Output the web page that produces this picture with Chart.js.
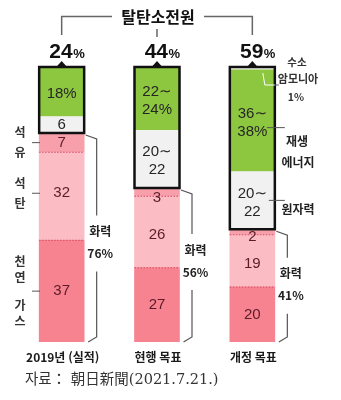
<!DOCTYPE html>
<html lang="ko">
<head>
<meta charset="utf-8">
<title>탈탄소전원</title>
<script src="https://cdn.jsdelivr.net/npm/chart.js@4.4.0/dist/chart.umd.min.js"></script>
<style>
  html, body { margin: 0; padding: 0; background: #fff; }
  #wrap { width: 341px; height: 400px; }
</style>
</head>
<body>
<div id="wrap"><canvas id="mix" width="341" height="400"></canvas></div>
<script>
// power mix (%), stacked bottom to top
const categories = ["2019년 (실적)", "현행 목표", "개정 목표"];
const gas = [37, 27, 20];
const coal = [32, 26, 19];
const oil = [7, 3, 2];
const nuclear = [6, 21, 21];
const renewable = [18, 23, 37];
const hydrogen = [0, 0, 1];

const lowCarbonTotals = [24, 44, 59];
const fireTotals = [76, 56, 41];
const nuclearLabels = ["6", "20∼\n22", "20∼\n22"];
const renewableLabels = ["18%", "22∼\n24%", "36∼\n38%"];

const KR = '"Noto Sans CJK KR", "Noto Sans", sans-serif';
const NUM = '"Liberation Sans", Arial, "DejaVu Sans", sans-serif';

function text(ctx, str, x, y, font, color, align) {
    ctx.font = font;
    ctx.fillStyle = color;
    ctx.textAlign = align || "center";
    ctx.textBaseline = "middle";
    ctx.fillText(str, x, y);
}

function lines(ctx, str, x, y, font, color, lh) {
    const parts = str.split("\n");
    parts.forEach((p, k) => {
        text(ctx, p, x, y + (k - (parts.length - 1) / 2) * lh, font, color);
    });
}

function path(ctx, pts, color, width) {
    ctx.beginPath();
    ctx.strokeStyle = color;
    ctx.lineWidth = width;
    pts.forEach((p, k) => (k ? ctx.lineTo(p[0], p[1]) : ctx.moveTo(p[0], p[1])));
    ctx.stroke();
}

const overlay = {
    id: "overlay",
    afterDatasetsDraw(chart) {
        const ctx = chart.ctx;
        const xs = chart.scales.x;
        const ys = chart.scales.y;
        const half = chart.getDatasetMeta(0).data[0].width / 2;
        const fireNudge = [5, -4, -1];
        ctx.save();

        categories.forEach((cat, i) => {
            const cx = xs.getPixelForValue(i);
            const xl = cx - half;
            const xr = cx + half;
            const yGas = ys.getPixelForValue(gas[i]);
            const yCoal = ys.getPixelForValue(gas[i] + coal[i]);
            const yOil = ys.getPixelForValue(gas[i] + coal[i] + oil[i]);
            const yNuc = ys.getPixelForValue(gas[i] + coal[i] + oil[i] + nuclear[i]);
            const yRen = ys.getPixelForValue(gas[i] + coal[i] + oil[i] + nuclear[i] + renewable[i]);
            const yTop = ys.getPixelForValue(gas[i] + coal[i] + oil[i] + nuclear[i] + renewable[i] + hydrogen[i]);
            const yBase = ys.getPixelForValue(0);

            // dotted borders between fossil segments
            ctx.setLineDash([1.5, 1.5]);
            path(ctx, [[xl, yGas], [xr, yGas]], "#d4475f", 1);
            path(ctx, [[xl, yCoal], [xr, yCoal]], "#d4475f", 1);
            ctx.setLineDash([]);

            // values in fossil segments
            const pink = "#5a1c28";
            const vf = "15px " + NUM;
            const oilMid = (yCoal + yOil) / 2;
            text(ctx, String(oil[i]), cx, oil[i] < 5 ? yCoal + 2 : oilMid, vf, pink);
            text(ctx, String(coal[i]), cx, (yGas + yCoal) / 2 + (oil[i] < 5 ? 3 : -3), vf, pink);
            text(ctx, String(gas[i]), cx, (yBase + yGas) / 2, vf, pink);

            // low-carbon values
            lines(ctx, nuclearLabels[i], cx, (yOil + yNuc) / 2 + (i ? 2 : 0), vf, "#262626", 18);
            lines(ctx, renewableLabels[i], cx, (yNuc + yRen) / 2 + 2, vf, "#262626", 18);

            // low-carbon frame and pointer
            ctx.lineWidth = 2.5;
            ctx.strokeStyle = "#111";
            ctx.strokeRect(xl, yTop, xr - xl, yOil - yTop);
            ctx.beginPath();
            ctx.fillStyle = "#111";
            ctx.moveTo(cx - 4.5, yTop - 1);
            ctx.lineTo(cx + 4.5, yTop - 1);
            ctx.lineTo(cx, yTop - 6);
            ctx.closePath();
            ctx.fill();

            // share of low-carbon sources
            text(ctx, String(lowCarbonTotals[i]), cx + 11, 52, "bold 21px " + NUM, "#111", "right");
            text(ctx, "%", cx + 11.5, 54, "bold 13px " + NUM, "#111", "left");

            // thermal bracket on the right
            const bx = xr + 12.5;
            const mid = (yOil + yBase) / 2 + fireNudge[i];
            path(ctx, [[xr + 1.5, yOil + 2], [bx, yOil + 6], [bx, mid - 27]], "#555", 1.2);
            path(ctx, [[bx, mid + 29], [bx, yBase - 5], [xr + 4, yBase]], "#555", 1.2);
            text(ctx, "화력", xr + 16, mid - 11, "bold 12px " + KR, "#222");
            text(ctx, fireTotals[i] + "%", xr + 16, mid + 11, "bold 12px " + KR, "#222");

            // category label
            text(ctx, cat, cx + 1, 357, "bold 12px " + KR, "#1a1a1a");
        });

        // fossil source names beside the first bar
        const names = [["석", "유"], ["석", "탄"], ["천", "연", "가", "스"]];
        const mids = [
            (ys.getPixelForValue(gas[0] + coal[0]) + ys.getPixelForValue(gas[0] + coal[0] + oil[0])) / 2,
            (ys.getPixelForValue(gas[0]) + ys.getPixelForValue(gas[0] + coal[0])) / 2 - 3,
            (ys.getPixelForValue(0) + ys.getPixelForValue(gas[0])) / 2
        ];
        names.forEach((chars, k) => {
            const y0 = mids[k];
            const n = chars.length;
            chars.forEach((c, j) => {
                const off = (j - (n - 1) / 2) * 16 + (j < n / 2 ? -6 : 6) * (n > 2 ? 1 : 0.3);
                text(ctx, c, 20, y0 + off, "bold 12px " + KR, "#333");
            });
            path(ctx, [[32, y0], [40, y0]], "#555", 1);
        });

        // callouts for the revised target
        const c3 = xs.getPixelForValue(2);
        const r3 = c3 + half;
        const top3 = ys.getPixelForValue(100);
        path(ctx, [[r3 - 12, top3 + 6], [r3 - 10, top3 + 18], [r3, top3 + 18]], "#fff", 1);
        path(ctx, [[r3, top3 + 18], [r3 + 4, top3 + 18]], "#555", 1);
        text(ctx, "수소", 297, 62, "bold 10.5px " + KR, "#333");
        text(ctx, "암모니아", 298, 79, "bold 11px " + KR, "#333");
        text(ctx, "1%", 296, 97, "bold 10.5px " + KR, "#333");

        const yRenMid = (ys.getPixelForValue(41 + nuclear[2]) + ys.getPixelForValue(41 + nuclear[2] + renewable[2])) / 2;
        path(ctx, [[r3 - 8, yRenMid + 7], [r3 + 10, yRenMid + 7]], "#555", 1);
        text(ctx, "재생", 297, 141, "bold 12px " + KR, "#222");
        text(ctx, "에너지", 298, 162, "bold 12px " + KR, "#222");

        const yNucMid = (ys.getPixelForValue(41) + ys.getPixelForValue(41 + nuclear[2])) / 2;
        path(ctx, [[r3 - 6, yNucMid], [r3 + 10, yNucMid]], "#555", 1);
        text(ctx, "원자력", 298, 209, "bold 12px " + KR, "#222");

        // heading bracket
        const c1 = xs.getPixelForValue(0);
        const c2 = xs.getPixelForValue(1);
        path(ctx, [[112, 16.5], [c1, 16.5], [c1, 35]], "#666", 1.5);
        path(ctx, [[204, 16.5], [c3, 16.5], [c3, 35]], "#666", 1.5);
        path(ctx, [[c2, 29], [c2, 37]], "#666", 1.5);
        text(ctx, "탈탄소전원", 158, 17, "bold 16px " + KR, "#111");

        // source
        text(ctx, "자료： 朝日新聞(2021.7.21.)", 25, 380,
            '14.5px "DejaVu Serif", "Liberation Serif", "Noto Sans CJK JP", serif', "#333", "left");

        ctx.restore();
    }
};

const ds = (label, data, color) => ({
    label, data, backgroundColor: color, borderWidth: 0, barThickness: 45
});

new Chart(document.getElementById("mix"), {
    type: "bar",
    data: {
        labels: categories,
        datasets: [
            ds("천연가스", gas, "#f6838f"),
            ds("석탄", coal, "#fbbcc4"),
            ds("석유", oil, "#f7a0ab"),
            ds("원자력", nuclear, "#f1f1f1"),
            ds("재생에너지", renewable, "#8dc63f"),
            ds("수소·암모니아", hydrogen, "#f4f4f4")
        ]
    },
    options: {
        responsive: false,
        animation: false,
        layout: { padding: { left: 14, right: 41, top: 67, bottom: 58 } },
        plugins: { legend: { display: false }, tooltip: { enabled: false } },
        scales: {
            x: { stacked: true, display: false },
            y: { stacked: true, display: false, min: 0, max: 100 }
        }
    },
    plugins: [overlay]
});
</script>
</body>
</html>
